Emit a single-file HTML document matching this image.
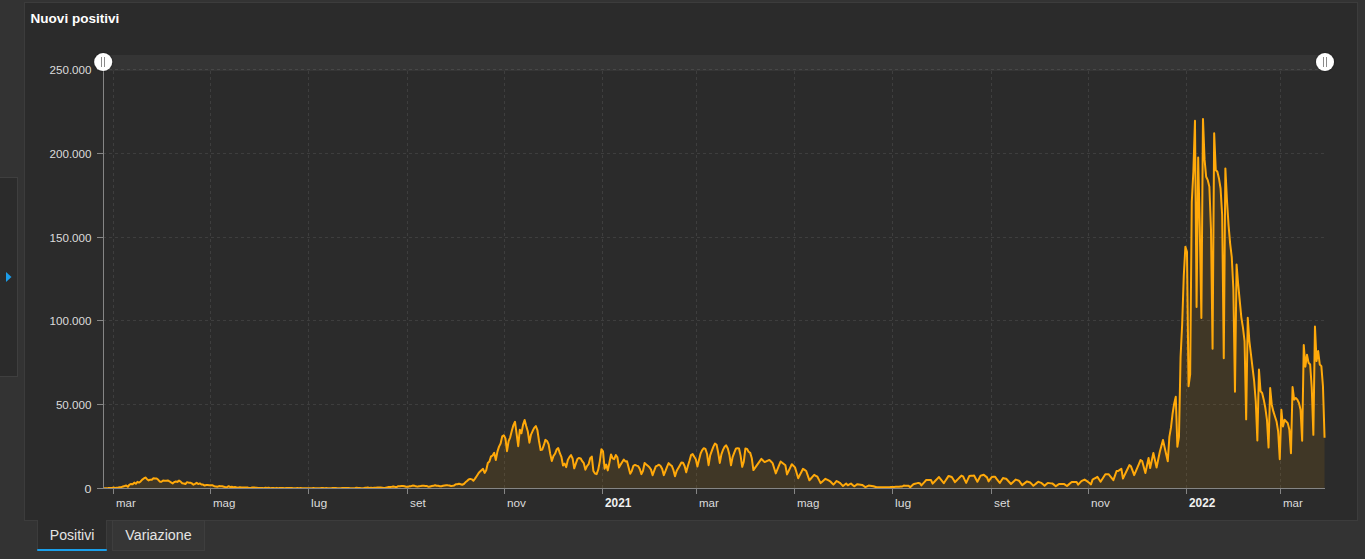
<!DOCTYPE html>
<html><head><meta charset="utf-8"><style>
html,body{margin:0;padding:0;}
body{width:1365px;height:559px;background:#333333;position:relative;overflow:hidden;font-family:"Liberation Sans",sans-serif;}
#side{position:absolute;left:-1px;top:177px;width:17px;height:198px;background:#2b2b2b;border:1px solid #3f3f3f;}
#panel{position:absolute;left:24px;top:2px;width:1332px;height:517px;background:#2b2b2b;border:1px solid #3c3c3c;}
#title{position:absolute;left:30px;top:10px;font-size:14px;font-weight:bold;color:#ffffff;line-height:16px;white-space:nowrap;}
svg{position:absolute;left:0;top:0;}
.yl{font-size:10px;fill:#dcdcdc;}
.xl{font-size:10px;fill:#dcdcdc;}
.ttl{font-size:13.5px;font-weight:bold;fill:#ffffff;}
.tb{font-size:14px;fill:#e4e4e4;}
.xb{font-size:12px;font-weight:bold;fill:#f0f0f0;}
.tab{position:absolute;top:520px;height:29px;font-size:14px;color:#e6e6e6;line-height:29px;text-align:center;white-space:nowrap;box-sizing:border-box;}
#t1{left:37px;top:520px;width:70px;background:#2b2b2b;border-left:1px solid #3c3c3c;border-right:1px solid #3c3c3c;height:31px;}
#t1 .ul{position:absolute;left:-1px;right:-1px;top:29px;height:2px;background:#1a9fea;border-radius:1px;}
#t2{left:112px;top:520px;width:93px;height:31px;background:#363636;border:1px solid #3e3e3e;}
</style></head><body>
<div id="side"></div>
<svg width="20" height="559" style="left:0;top:0"><polygon points="6,272 11.5,277 6,282" fill="#1b9ce8"/></svg>
<div id="panel"></div>
<svg width="1365" height="559" viewBox="0 0 1365 559">
<defs><clipPath id="pc"><rect x="103" y="60" width="1223" height="428.5"/></clipPath><filter id="sh" x="-50%" y="-50%" width="200%" height="200%"><feDropShadow dx="0" dy="0" stdDeviation="1" flood-color="#000" flood-opacity="0.6"/></filter></defs>
<rect x="103" y="55" width="1222" height="16" fill="#353535"/>
<line x1="103" y1="69.5" x2="1325" y2="69.5" stroke="#ffffff" stroke-opacity="0.09" stroke-width="1" stroke-dasharray="3,3"/>
<line x1="103" y1="153.5" x2="1325" y2="153.5" stroke="#ffffff" stroke-opacity="0.09" stroke-width="1" stroke-dasharray="3,3"/>
<line x1="103" y1="237.5" x2="1325" y2="237.5" stroke="#ffffff" stroke-opacity="0.09" stroke-width="1" stroke-dasharray="3,3"/>
<line x1="103" y1="320.5" x2="1325" y2="320.5" stroke="#ffffff" stroke-opacity="0.09" stroke-width="1" stroke-dasharray="3,3"/>
<line x1="103" y1="404.5" x2="1325" y2="404.5" stroke="#ffffff" stroke-opacity="0.09" stroke-width="1" stroke-dasharray="3,3"/>
<line x1="113.5" y1="71" x2="113.5" y2="488" stroke="#ffffff" stroke-opacity="0.09" stroke-width="1" stroke-dasharray="3,3"/>
<line x1="210.5" y1="71" x2="210.5" y2="488" stroke="#ffffff" stroke-opacity="0.09" stroke-width="1" stroke-dasharray="3,3"/>
<line x1="308.5" y1="71" x2="308.5" y2="488" stroke="#ffffff" stroke-opacity="0.09" stroke-width="1" stroke-dasharray="3,3"/>
<line x1="407.5" y1="71" x2="407.5" y2="488" stroke="#ffffff" stroke-opacity="0.09" stroke-width="1" stroke-dasharray="3,3"/>
<line x1="504.5" y1="71" x2="504.5" y2="488" stroke="#ffffff" stroke-opacity="0.09" stroke-width="1" stroke-dasharray="3,3"/>
<line x1="602.5" y1="71" x2="602.5" y2="488" stroke="#ffffff" stroke-opacity="0.09" stroke-width="1" stroke-dasharray="3,3"/>
<line x1="696.5" y1="71" x2="696.5" y2="488" stroke="#ffffff" stroke-opacity="0.09" stroke-width="1" stroke-dasharray="3,3"/>
<line x1="794.5" y1="71" x2="794.5" y2="488" stroke="#ffffff" stroke-opacity="0.09" stroke-width="1" stroke-dasharray="3,3"/>
<line x1="892.5" y1="71" x2="892.5" y2="488" stroke="#ffffff" stroke-opacity="0.09" stroke-width="1" stroke-dasharray="3,3"/>
<line x1="991.5" y1="71" x2="991.5" y2="488" stroke="#ffffff" stroke-opacity="0.09" stroke-width="1" stroke-dasharray="3,3"/>
<line x1="1088.5" y1="71" x2="1088.5" y2="488" stroke="#ffffff" stroke-opacity="0.09" stroke-width="1" stroke-dasharray="3,3"/>
<line x1="1186.5" y1="71" x2="1186.5" y2="488" stroke="#ffffff" stroke-opacity="0.09" stroke-width="1" stroke-dasharray="3,3"/>
<line x1="1280.5" y1="71" x2="1280.5" y2="488" stroke="#ffffff" stroke-opacity="0.09" stroke-width="1" stroke-dasharray="3,3"/>
<path d="M103.85,488.13 L105.45,488.34 L107.05,488.37 L108.65,488.08 L110.25,488.10 L111.85,488.10 L113.45,487.55 L115.05,487.93 L116.65,487.72 L118.25,487.52 L119.85,487.21 L121.45,487.20 L123.05,486.41 L124.65,486.00 L126.25,485.49 L127.85,486.86 L129.45,484.62 L131.05,484.06 L132.65,484.23 L134.25,482.64 L135.85,483.77 L137.45,481.80 L139.05,482.59 L140.65,481.45 L142.25,479.58 L143.85,478.47 L145.45,477.51 L147.05,479.18 L148.65,480.47 L150.25,479.70 L151.85,479.77 L153.45,478.19 L155.05,478.51 L156.65,478.49 L158.25,479.76 L159.85,481.71 L161.45,481.71 L163.05,480.49 L164.65,480.68 L166.25,480.82 L167.85,480.45 L169.45,481.27 L171.04,482.47 L172.64,483.41 L174.24,482.07 L175.84,481.45 L177.44,481.88 L179.04,480.63 L180.64,481.64 L182.24,483.22 L183.84,483.52 L185.44,484.03 L187.04,482.15 L188.64,482.65 L190.24,482.65 L191.84,483.39 L193.44,484.72 L195.04,483.93 L196.64,482.85 L198.24,484.07 L199.84,483.44 L201.44,484.55 L203.04,484.60 L204.64,485.59 L206.24,485.00 L207.84,485.00 L209.44,485.36 L211.04,485.21 L212.64,485.32 L214.24,486.17 L215.84,486.45 L217.44,486.70 L219.04,486.08 L220.64,486.15 L222.24,486.28 L223.84,486.68 L225.44,487.16 L227.04,487.25 L228.64,486.15 L230.24,487.01 L231.84,486.84 L233.44,487.18 L235.04,487.03 L236.64,487.37 L238.24,487.74 L239.84,487.14 L241.44,487.39 L243.04,487.42 L244.64,487.41 L246.24,487.38 L247.84,487.61 L249.44,488.00 L251.04,487.83 L252.64,487.52 L254.24,487.51 L255.84,487.64 L257.44,487.80 L259.04,487.91 L260.64,487.97 L262.24,487.96 L263.84,488.20 L265.44,487.63 L267.04,488.05 L268.64,487.63 L270.24,488.17 L271.84,488.03 L273.44,488.03 L275.04,488.16 L276.64,487.86 L278.24,488.23 L279.84,487.92 L281.44,487.93 L283.04,488.00 L284.64,488.15 L286.24,487.95 L287.84,487.94 L289.44,488.08 L291.04,488.06 L292.64,488.12 L294.24,488.13 L295.84,488.31 L297.44,488.00 L299.04,488.18 L300.64,488.07 L302.24,488.21 L303.83,488.21 L305.43,488.29 L307.03,488.26 L308.63,488.19 L310.23,488.16 L311.83,488.13 L313.43,488.11 L315.03,488.18 L316.63,488.15 L318.23,488.27 L319.83,488.18 L321.43,488.12 L323.03,488.04 L324.63,488.18 L326.23,488.11 L327.83,488.22 L329.43,488.31 L331.03,488.23 L332.63,488.11 L334.23,488.11 L335.83,488.08 L337.43,488.13 L339.03,488.13 L340.63,488.28 L342.23,488.03 L343.83,487.99 L345.43,488.08 L347.03,488.04 L348.63,488.07 L350.23,488.22 L351.83,488.20 L353.43,488.14 L355.03,488.02 L356.63,487.86 L358.23,488.01 L359.83,488.10 L361.43,488.23 L363.03,488.18 L364.63,487.86 L366.23,487.83 L367.83,487.57 L369.43,487.92 L371.03,487.72 L372.63,488.07 L374.23,487.81 L375.83,487.69 L377.43,487.62 L379.03,487.54 L380.63,487.45 L382.23,487.70 L383.83,487.96 L385.43,487.82 L387.03,487.42 L388.63,487.08 L390.23,486.91 L391.83,486.71 L393.43,486.47 L395.03,486.90 L396.63,487.03 L398.23,486.21 L399.83,486.14 L401.43,486.05 L403.03,486.08 L404.63,486.21 L406.23,486.83 L407.83,486.86 L409.43,486.28 L411.03,486.16 L412.63,485.60 L414.23,485.66 L415.83,486.33 L417.43,486.64 L419.03,486.20 L420.63,486.10 L422.23,485.82 L423.83,485.79 L425.43,485.98 L427.03,486.06 L428.63,486.81 L430.23,486.44 L431.83,486.07 L433.43,485.84 L435.03,485.30 L436.63,485.75 L438.22,485.84 L439.82,486.24 L441.42,486.17 L443.02,485.75 L444.62,485.51 L446.22,485.30 L447.82,485.37 L449.42,485.54 L451.02,486.00 L452.62,485.74 L454.22,485.40 L455.82,484.23 L457.42,484.31 L459.02,483.73 L460.62,484.18 L462.22,484.72 L463.82,484.01 L465.42,482.34 L467.02,481.03 L468.62,479.50 L470.22,478.91 L471.82,479.36 L473.42,480.76 L475.02,478.61 L476.62,476.21 L478.22,473.74 L479.82,471.72 L481.42,470.19 L483.02,468.88 L484.62,472.85 L486.22,470.28 L487.82,463.03 L489.42,461.55 L491.02,456.42 L492.62,455.58 L494.22,452.85 L495.82,459.99 L497.42,451.64 L499.02,446.62 L500.62,443.53 L502.22,436.40 L503.82,435.27 L505.42,438.38 L507.02,451.20 L508.62,441.16 L510.22,437.30 L511.82,430.67 L513.42,425.13 L515.02,421.78 L516.62,433.84 L518.22,446.15 L519.82,429.68 L521.42,433.26 L523.02,424.85 L524.62,419.95 L526.22,426.06 L527.82,431.55 L529.42,442.65 L531.02,434.55 L532.62,431.04 L534.22,427.87 L535.82,426.08 L537.42,430.23 L539.02,441.01 L540.62,450.07 L542.22,449.56 L543.82,445.17 L545.42,439.89 L547.02,440.98 L548.62,444.38 L550.22,453.89 L551.82,461.05 L553.42,456.07 L555.02,453.79 L556.62,449.57 L558.22,448.11 L559.82,453.22 L561.42,456.85 L563.02,465.51 L564.62,463.62 L566.22,467.12 L567.82,460.01 L569.42,457.11 L571.01,455.14 L572.61,458.44 L574.21,468.34 L575.81,463.62 L577.41,459.05 L579.01,457.94 L580.61,458.35 L582.21,461.17 L583.81,463.19 L585.41,469.71 L587.01,466.18 L588.61,464.16 L590.21,458.26 L591.81,456.59 L593.41,471.06 L595.01,473.56 L596.61,474.11 L598.21,469.69 L599.81,461.35 L601.41,449.15 L603.01,451.27 L604.61,468.67 L606.21,464.63 L607.81,470.40 L609.41,462.73 L611.01,454.43 L612.61,458.30 L614.21,459.11 L615.81,455.02 L617.41,457.28 L619.01,467.50 L620.61,464.63 L622.21,462.06 L623.81,459.60 L625.41,461.44 L627.01,461.16 L628.61,467.47 L630.21,473.71 L631.81,470.91 L633.41,465.76 L635.01,464.91 L636.61,465.65 L638.21,466.16 L639.81,469.01 L641.41,474.15 L643.01,470.75 L644.61,463.02 L646.21,464.41 L647.81,465.75 L649.41,467.19 L651.01,469.64 L652.61,475.22 L654.21,470.68 L655.81,466.40 L657.41,465.61 L659.01,464.67 L660.61,465.97 L662.21,468.99 L663.81,475.14 L665.41,471.06 L667.01,466.79 L668.61,463.12 L670.21,464.80 L671.81,465.82 L673.41,469.95 L675.01,476.18 L676.61,471.09 L678.21,468.26 L679.81,465.43 L681.41,462.56 L683.01,462.74 L684.61,465.95 L686.21,472.36 L687.81,466.19 L689.41,460.97 L691.01,455.17 L692.61,454.14 L694.21,456.80 L695.81,459.25 L697.41,466.52 L699.01,459.87 L700.61,453.50 L702.21,450.18 L703.81,448.22 L705.40,448.88 L707.00,453.70 L708.60,465.20 L710.20,455.40 L711.80,450.94 L713.40,446.60 L715.00,443.54 L716.60,444.82 L718.20,452.78 L719.80,462.91 L721.40,454.32 L723.00,449.85 L724.60,446.71 L726.20,445.37 L727.80,448.56 L729.40,454.71 L731.00,465.29 L732.60,457.05 L734.20,452.86 L735.80,448.79 L737.40,448.15 L739.00,448.55 L740.60,455.63 L742.20,466.85 L743.80,461.66 L745.40,448.44 L747.00,448.86 L748.60,451.74 L750.20,452.87 L751.80,458.29 L753.40,470.10 L755.00,467.86 L756.60,465.62 L758.20,463.38 L759.80,461.14 L761.40,458.90 L763.00,460.50 L764.60,462.10 L766.20,461.37 L767.80,460.63 L769.40,459.90 L771.00,461.50 L772.60,463.10 L774.20,468.25 L775.80,473.40 L777.40,469.43 L779.00,465.47 L780.60,461.50 L782.20,462.77 L783.80,464.03 L785.40,465.30 L787.00,474.40 L788.60,471.00 L790.20,467.60 L791.80,464.20 L793.40,465.80 L795.00,467.40 L796.60,472.80 L798.20,478.20 L799.80,475.07 L801.40,471.93 L803.00,468.80 L804.60,469.90 L806.20,471.00 L807.80,475.65 L809.40,480.30 L811.00,478.50 L812.60,476.70 L814.20,474.90 L815.80,475.80 L817.40,476.70 L819.00,479.90 L820.60,483.10 L822.20,481.67 L823.80,480.23 L825.40,478.80 L827.00,479.63 L828.60,480.47 L830.20,481.30 L831.80,482.95 L833.40,484.60 L835.00,482.80 L836.60,481.00 L838.19,481.90 L839.79,482.80 L841.39,484.40 L842.99,486.00 L844.59,484.75 L846.19,483.50 L847.79,485.30 L849.39,484.40 L850.99,483.50 L852.59,484.90 L854.19,486.30 L855.79,485.25 L857.39,484.20 L858.99,484.43 L860.59,484.67 L862.19,484.90 L863.79,486.00 L865.39,487.10 L866.99,486.35 L868.59,485.60 L870.19,485.80 L871.79,486.00 L873.39,486.20 L874.99,486.75 L876.59,487.30 L878.19,487.30 L879.79,487.30 L881.39,487.30 L882.99,487.30 L884.59,487.30 L886.19,487.30 L887.79,487.30 L889.39,487.21 L890.99,487.12 L892.59,487.03 L894.19,486.94 L895.79,486.86 L897.39,486.77 L898.99,486.68 L900.59,486.59 L902.19,486.50 L903.79,485.60 L905.39,485.67 L906.99,485.73 L908.59,485.80 L910.19,487.30 L911.79,485.80 L913.39,484.30 L914.99,483.83 L916.59,483.37 L918.19,482.90 L919.79,483.20 L921.39,485.40 L922.99,483.60 L924.59,481.80 L926.19,480.00 L927.79,480.00 L929.39,480.00 L930.99,480.00 L932.59,483.60 L934.19,481.95 L935.79,480.30 L937.39,478.65 L938.99,477.00 L940.59,479.07 L942.19,481.13 L943.79,483.20 L945.39,480.77 L946.99,478.33 L948.59,475.90 L950.19,476.45 L951.79,477.00 L953.39,479.55 L954.99,482.10 L956.59,480.48 L958.19,478.85 L959.79,477.23 L961.39,475.60 L962.99,476.30 L964.59,479.60 L966.19,482.90 L967.79,479.40 L969.39,475.90 L970.98,475.80 L972.58,475.70 L974.18,475.60 L975.78,478.70 L977.38,481.80 L978.98,478.70 L980.58,475.60 L982.18,475.20 L983.78,474.80 L985.38,476.10 L986.98,477.40 L988.58,481.40 L990.18,479.20 L991.78,477.00 L993.38,476.85 L994.98,476.70 L996.58,478.77 L998.18,480.83 L999.78,482.90 L1001.38,480.50 L1002.98,478.10 L1004.58,478.45 L1006.18,478.80 L1007.78,480.53 L1009.38,482.27 L1010.98,484.00 L1012.58,482.53 L1014.18,481.07 L1015.78,479.60 L1017.38,480.15 L1018.98,480.70 L1020.58,482.90 L1022.18,485.10 L1023.78,483.87 L1025.38,482.63 L1026.98,481.40 L1028.58,481.95 L1030.18,482.50 L1031.78,484.15 L1033.38,485.80 L1034.98,484.47 L1036.58,483.13 L1038.18,481.80 L1039.78,482.35 L1041.38,482.90 L1042.98,484.35 L1044.58,485.80 L1046.18,484.35 L1047.78,482.90 L1049.38,483.13 L1050.98,483.37 L1052.58,483.60 L1054.18,484.90 L1055.78,486.20 L1057.38,485.10 L1058.98,484.00 L1060.58,483.97 L1062.18,483.93 L1063.78,483.90 L1065.38,484.95 L1066.98,486.00 L1068.58,484.63 L1070.18,483.27 L1071.78,481.90 L1073.38,481.90 L1074.98,481.90 L1076.58,481.90 L1078.18,484.70 L1079.78,482.95 L1081.38,481.20 L1082.98,480.40 L1084.58,479.60 L1086.18,480.65 L1087.78,481.70 L1089.38,483.05 L1090.98,484.40 L1092.58,479.60 L1094.18,478.70 L1095.78,477.80 L1097.38,476.90 L1098.98,479.30 L1100.58,481.70 L1102.18,479.20 L1103.77,476.70 L1105.37,474.20 L1106.97,474.20 L1108.57,474.20 L1110.17,476.17 L1111.77,478.13 L1113.37,480.10 L1114.97,475.55 L1116.57,471.00 L1118.17,471.00 L1119.77,469.90 L1121.37,468.80 L1122.97,478.50 L1124.57,475.15 L1126.17,471.80 L1127.77,468.45 L1129.37,465.10 L1130.97,466.30 L1132.57,470.70 L1134.17,475.10 L1135.77,471.33 L1137.37,467.55 L1138.97,463.77 L1140.57,460.00 L1142.17,461.00 L1143.77,467.05 L1145.37,473.10 L1146.97,465.55 L1148.57,458.00 L1150.17,468.10 L1151.77,460.55 L1153.37,453.00 L1154.97,460.30 L1156.57,467.60 L1158.17,459.80 L1159.77,452.00 L1161.37,446.00 L1162.97,440.00 L1164.57,447.11 L1166.17,454.22 L1167.77,461.33 L1169.37,436.88 L1170.97,427.67 L1172.57,413.76 L1174.17,403.70 L1175.77,396.72 L1177.37,446.80 L1178.97,436.86 L1180.57,357.25 L1182.17,324.22 L1183.77,275.84 L1185.37,246.75 L1186.97,251.74 L1188.57,386.19 L1190.17,374.44 L1191.77,202.17 L1193.37,171.55 L1194.97,120.72 L1196.57,306.98 L1198.17,157.40 L1199.77,227.62 L1201.37,317.95 L1202.97,118.89 L1204.57,159.63 L1206.17,176.76 L1207.77,180.12 L1209.37,186.82 L1210.97,228.72 L1212.57,348.72 L1214.17,133.19 L1215.77,170.06 L1217.37,171.74 L1218.97,178.44 L1220.57,188.50 L1222.17,215.31 L1223.77,358.28 L1225.37,168.38 L1226.97,200.23 L1228.57,225.37 L1230.17,243.80 L1231.77,257.21 L1233.37,289.06 L1234.97,391.77 L1236.57,264.59 L1238.16,284.03 L1239.76,300.79 L1241.36,317.55 L1242.96,327.60 L1244.56,341.01 L1246.16,419.37 L1247.76,317.78 L1249.36,341.01 L1250.96,354.42 L1252.56,367.83 L1254.16,381.24 L1255.76,401.35 L1257.36,440.52 L1258.96,369.50 L1260.56,391.29 L1262.16,392.97 L1263.76,399.67 L1265.36,408.05 L1266.96,419.78 L1268.56,447.59 L1270.16,387.94 L1271.76,404.70 L1273.36,411.40 L1274.96,416.43 L1276.56,421.46 L1278.16,431.52 L1279.76,459.17 L1281.36,409.73 L1282.96,426.49 L1284.56,419.78 L1286.16,421.46 L1287.76,423.14 L1289.36,429.84 L1290.96,453.26 L1292.56,387.10 L1294.16,399.67 L1295.76,398.00 L1297.36,399.67 L1298.96,403.02 L1300.56,409.73 L1302.16,440.73 L1303.76,345.03 L1305.36,366.65 L1306.96,354.76 L1308.56,362.80 L1310.16,364.48 L1311.76,387.94 L1313.36,434.87 L1314.96,326.43 L1316.56,361.12 L1318.16,351.07 L1319.76,364.48 L1321.36,366.15 L1322.96,386.26 L1324.56,437.72 L1324.56,488.5 L103.85,488.5 Z" fill="#ffa500" fill-opacity="0.1" stroke="none"/>
<path d="M103.85,488.13 L105.45,488.34 L107.05,488.37 L108.65,488.08 L110.25,488.10 L111.85,488.10 L113.45,487.55 L115.05,487.93 L116.65,487.72 L118.25,487.52 L119.85,487.21 L121.45,487.20 L123.05,486.41 L124.65,486.00 L126.25,485.49 L127.85,486.86 L129.45,484.62 L131.05,484.06 L132.65,484.23 L134.25,482.64 L135.85,483.77 L137.45,481.80 L139.05,482.59 L140.65,481.45 L142.25,479.58 L143.85,478.47 L145.45,477.51 L147.05,479.18 L148.65,480.47 L150.25,479.70 L151.85,479.77 L153.45,478.19 L155.05,478.51 L156.65,478.49 L158.25,479.76 L159.85,481.71 L161.45,481.71 L163.05,480.49 L164.65,480.68 L166.25,480.82 L167.85,480.45 L169.45,481.27 L171.04,482.47 L172.64,483.41 L174.24,482.07 L175.84,481.45 L177.44,481.88 L179.04,480.63 L180.64,481.64 L182.24,483.22 L183.84,483.52 L185.44,484.03 L187.04,482.15 L188.64,482.65 L190.24,482.65 L191.84,483.39 L193.44,484.72 L195.04,483.93 L196.64,482.85 L198.24,484.07 L199.84,483.44 L201.44,484.55 L203.04,484.60 L204.64,485.59 L206.24,485.00 L207.84,485.00 L209.44,485.36 L211.04,485.21 L212.64,485.32 L214.24,486.17 L215.84,486.45 L217.44,486.70 L219.04,486.08 L220.64,486.15 L222.24,486.28 L223.84,486.68 L225.44,487.16 L227.04,487.25 L228.64,486.15 L230.24,487.01 L231.84,486.84 L233.44,487.18 L235.04,487.03 L236.64,487.37 L238.24,487.74 L239.84,487.14 L241.44,487.39 L243.04,487.42 L244.64,487.41 L246.24,487.38 L247.84,487.61 L249.44,488.00 L251.04,487.83 L252.64,487.52 L254.24,487.51 L255.84,487.64 L257.44,487.80 L259.04,487.91 L260.64,487.97 L262.24,487.96 L263.84,488.20 L265.44,487.63 L267.04,488.05 L268.64,487.63 L270.24,488.17 L271.84,488.03 L273.44,488.03 L275.04,488.16 L276.64,487.86 L278.24,488.23 L279.84,487.92 L281.44,487.93 L283.04,488.00 L284.64,488.15 L286.24,487.95 L287.84,487.94 L289.44,488.08 L291.04,488.06 L292.64,488.12 L294.24,488.13 L295.84,488.31 L297.44,488.00 L299.04,488.18 L300.64,488.07 L302.24,488.21 L303.83,488.21 L305.43,488.29 L307.03,488.26 L308.63,488.19 L310.23,488.16 L311.83,488.13 L313.43,488.11 L315.03,488.18 L316.63,488.15 L318.23,488.27 L319.83,488.18 L321.43,488.12 L323.03,488.04 L324.63,488.18 L326.23,488.11 L327.83,488.22 L329.43,488.31 L331.03,488.23 L332.63,488.11 L334.23,488.11 L335.83,488.08 L337.43,488.13 L339.03,488.13 L340.63,488.28 L342.23,488.03 L343.83,487.99 L345.43,488.08 L347.03,488.04 L348.63,488.07 L350.23,488.22 L351.83,488.20 L353.43,488.14 L355.03,488.02 L356.63,487.86 L358.23,488.01 L359.83,488.10 L361.43,488.23 L363.03,488.18 L364.63,487.86 L366.23,487.83 L367.83,487.57 L369.43,487.92 L371.03,487.72 L372.63,488.07 L374.23,487.81 L375.83,487.69 L377.43,487.62 L379.03,487.54 L380.63,487.45 L382.23,487.70 L383.83,487.96 L385.43,487.82 L387.03,487.42 L388.63,487.08 L390.23,486.91 L391.83,486.71 L393.43,486.47 L395.03,486.90 L396.63,487.03 L398.23,486.21 L399.83,486.14 L401.43,486.05 L403.03,486.08 L404.63,486.21 L406.23,486.83 L407.83,486.86 L409.43,486.28 L411.03,486.16 L412.63,485.60 L414.23,485.66 L415.83,486.33 L417.43,486.64 L419.03,486.20 L420.63,486.10 L422.23,485.82 L423.83,485.79 L425.43,485.98 L427.03,486.06 L428.63,486.81 L430.23,486.44 L431.83,486.07 L433.43,485.84 L435.03,485.30 L436.63,485.75 L438.22,485.84 L439.82,486.24 L441.42,486.17 L443.02,485.75 L444.62,485.51 L446.22,485.30 L447.82,485.37 L449.42,485.54 L451.02,486.00 L452.62,485.74 L454.22,485.40 L455.82,484.23 L457.42,484.31 L459.02,483.73 L460.62,484.18 L462.22,484.72 L463.82,484.01 L465.42,482.34 L467.02,481.03 L468.62,479.50 L470.22,478.91 L471.82,479.36 L473.42,480.76 L475.02,478.61 L476.62,476.21 L478.22,473.74 L479.82,471.72 L481.42,470.19 L483.02,468.88 L484.62,472.85 L486.22,470.28 L487.82,463.03 L489.42,461.55 L491.02,456.42 L492.62,455.58 L494.22,452.85 L495.82,459.99 L497.42,451.64 L499.02,446.62 L500.62,443.53 L502.22,436.40 L503.82,435.27 L505.42,438.38 L507.02,451.20 L508.62,441.16 L510.22,437.30 L511.82,430.67 L513.42,425.13 L515.02,421.78 L516.62,433.84 L518.22,446.15 L519.82,429.68 L521.42,433.26 L523.02,424.85 L524.62,419.95 L526.22,426.06 L527.82,431.55 L529.42,442.65 L531.02,434.55 L532.62,431.04 L534.22,427.87 L535.82,426.08 L537.42,430.23 L539.02,441.01 L540.62,450.07 L542.22,449.56 L543.82,445.17 L545.42,439.89 L547.02,440.98 L548.62,444.38 L550.22,453.89 L551.82,461.05 L553.42,456.07 L555.02,453.79 L556.62,449.57 L558.22,448.11 L559.82,453.22 L561.42,456.85 L563.02,465.51 L564.62,463.62 L566.22,467.12 L567.82,460.01 L569.42,457.11 L571.01,455.14 L572.61,458.44 L574.21,468.34 L575.81,463.62 L577.41,459.05 L579.01,457.94 L580.61,458.35 L582.21,461.17 L583.81,463.19 L585.41,469.71 L587.01,466.18 L588.61,464.16 L590.21,458.26 L591.81,456.59 L593.41,471.06 L595.01,473.56 L596.61,474.11 L598.21,469.69 L599.81,461.35 L601.41,449.15 L603.01,451.27 L604.61,468.67 L606.21,464.63 L607.81,470.40 L609.41,462.73 L611.01,454.43 L612.61,458.30 L614.21,459.11 L615.81,455.02 L617.41,457.28 L619.01,467.50 L620.61,464.63 L622.21,462.06 L623.81,459.60 L625.41,461.44 L627.01,461.16 L628.61,467.47 L630.21,473.71 L631.81,470.91 L633.41,465.76 L635.01,464.91 L636.61,465.65 L638.21,466.16 L639.81,469.01 L641.41,474.15 L643.01,470.75 L644.61,463.02 L646.21,464.41 L647.81,465.75 L649.41,467.19 L651.01,469.64 L652.61,475.22 L654.21,470.68 L655.81,466.40 L657.41,465.61 L659.01,464.67 L660.61,465.97 L662.21,468.99 L663.81,475.14 L665.41,471.06 L667.01,466.79 L668.61,463.12 L670.21,464.80 L671.81,465.82 L673.41,469.95 L675.01,476.18 L676.61,471.09 L678.21,468.26 L679.81,465.43 L681.41,462.56 L683.01,462.74 L684.61,465.95 L686.21,472.36 L687.81,466.19 L689.41,460.97 L691.01,455.17 L692.61,454.14 L694.21,456.80 L695.81,459.25 L697.41,466.52 L699.01,459.87 L700.61,453.50 L702.21,450.18 L703.81,448.22 L705.40,448.88 L707.00,453.70 L708.60,465.20 L710.20,455.40 L711.80,450.94 L713.40,446.60 L715.00,443.54 L716.60,444.82 L718.20,452.78 L719.80,462.91 L721.40,454.32 L723.00,449.85 L724.60,446.71 L726.20,445.37 L727.80,448.56 L729.40,454.71 L731.00,465.29 L732.60,457.05 L734.20,452.86 L735.80,448.79 L737.40,448.15 L739.00,448.55 L740.60,455.63 L742.20,466.85 L743.80,461.66 L745.40,448.44 L747.00,448.86 L748.60,451.74 L750.20,452.87 L751.80,458.29 L753.40,470.10 L755.00,467.86 L756.60,465.62 L758.20,463.38 L759.80,461.14 L761.40,458.90 L763.00,460.50 L764.60,462.10 L766.20,461.37 L767.80,460.63 L769.40,459.90 L771.00,461.50 L772.60,463.10 L774.20,468.25 L775.80,473.40 L777.40,469.43 L779.00,465.47 L780.60,461.50 L782.20,462.77 L783.80,464.03 L785.40,465.30 L787.00,474.40 L788.60,471.00 L790.20,467.60 L791.80,464.20 L793.40,465.80 L795.00,467.40 L796.60,472.80 L798.20,478.20 L799.80,475.07 L801.40,471.93 L803.00,468.80 L804.60,469.90 L806.20,471.00 L807.80,475.65 L809.40,480.30 L811.00,478.50 L812.60,476.70 L814.20,474.90 L815.80,475.80 L817.40,476.70 L819.00,479.90 L820.60,483.10 L822.20,481.67 L823.80,480.23 L825.40,478.80 L827.00,479.63 L828.60,480.47 L830.20,481.30 L831.80,482.95 L833.40,484.60 L835.00,482.80 L836.60,481.00 L838.19,481.90 L839.79,482.80 L841.39,484.40 L842.99,486.00 L844.59,484.75 L846.19,483.50 L847.79,485.30 L849.39,484.40 L850.99,483.50 L852.59,484.90 L854.19,486.30 L855.79,485.25 L857.39,484.20 L858.99,484.43 L860.59,484.67 L862.19,484.90 L863.79,486.00 L865.39,487.10 L866.99,486.35 L868.59,485.60 L870.19,485.80 L871.79,486.00 L873.39,486.20 L874.99,486.75 L876.59,487.30 L878.19,487.30 L879.79,487.30 L881.39,487.30 L882.99,487.30 L884.59,487.30 L886.19,487.30 L887.79,487.30 L889.39,487.21 L890.99,487.12 L892.59,487.03 L894.19,486.94 L895.79,486.86 L897.39,486.77 L898.99,486.68 L900.59,486.59 L902.19,486.50 L903.79,485.60 L905.39,485.67 L906.99,485.73 L908.59,485.80 L910.19,487.30 L911.79,485.80 L913.39,484.30 L914.99,483.83 L916.59,483.37 L918.19,482.90 L919.79,483.20 L921.39,485.40 L922.99,483.60 L924.59,481.80 L926.19,480.00 L927.79,480.00 L929.39,480.00 L930.99,480.00 L932.59,483.60 L934.19,481.95 L935.79,480.30 L937.39,478.65 L938.99,477.00 L940.59,479.07 L942.19,481.13 L943.79,483.20 L945.39,480.77 L946.99,478.33 L948.59,475.90 L950.19,476.45 L951.79,477.00 L953.39,479.55 L954.99,482.10 L956.59,480.48 L958.19,478.85 L959.79,477.23 L961.39,475.60 L962.99,476.30 L964.59,479.60 L966.19,482.90 L967.79,479.40 L969.39,475.90 L970.98,475.80 L972.58,475.70 L974.18,475.60 L975.78,478.70 L977.38,481.80 L978.98,478.70 L980.58,475.60 L982.18,475.20 L983.78,474.80 L985.38,476.10 L986.98,477.40 L988.58,481.40 L990.18,479.20 L991.78,477.00 L993.38,476.85 L994.98,476.70 L996.58,478.77 L998.18,480.83 L999.78,482.90 L1001.38,480.50 L1002.98,478.10 L1004.58,478.45 L1006.18,478.80 L1007.78,480.53 L1009.38,482.27 L1010.98,484.00 L1012.58,482.53 L1014.18,481.07 L1015.78,479.60 L1017.38,480.15 L1018.98,480.70 L1020.58,482.90 L1022.18,485.10 L1023.78,483.87 L1025.38,482.63 L1026.98,481.40 L1028.58,481.95 L1030.18,482.50 L1031.78,484.15 L1033.38,485.80 L1034.98,484.47 L1036.58,483.13 L1038.18,481.80 L1039.78,482.35 L1041.38,482.90 L1042.98,484.35 L1044.58,485.80 L1046.18,484.35 L1047.78,482.90 L1049.38,483.13 L1050.98,483.37 L1052.58,483.60 L1054.18,484.90 L1055.78,486.20 L1057.38,485.10 L1058.98,484.00 L1060.58,483.97 L1062.18,483.93 L1063.78,483.90 L1065.38,484.95 L1066.98,486.00 L1068.58,484.63 L1070.18,483.27 L1071.78,481.90 L1073.38,481.90 L1074.98,481.90 L1076.58,481.90 L1078.18,484.70 L1079.78,482.95 L1081.38,481.20 L1082.98,480.40 L1084.58,479.60 L1086.18,480.65 L1087.78,481.70 L1089.38,483.05 L1090.98,484.40 L1092.58,479.60 L1094.18,478.70 L1095.78,477.80 L1097.38,476.90 L1098.98,479.30 L1100.58,481.70 L1102.18,479.20 L1103.77,476.70 L1105.37,474.20 L1106.97,474.20 L1108.57,474.20 L1110.17,476.17 L1111.77,478.13 L1113.37,480.10 L1114.97,475.55 L1116.57,471.00 L1118.17,471.00 L1119.77,469.90 L1121.37,468.80 L1122.97,478.50 L1124.57,475.15 L1126.17,471.80 L1127.77,468.45 L1129.37,465.10 L1130.97,466.30 L1132.57,470.70 L1134.17,475.10 L1135.77,471.33 L1137.37,467.55 L1138.97,463.77 L1140.57,460.00 L1142.17,461.00 L1143.77,467.05 L1145.37,473.10 L1146.97,465.55 L1148.57,458.00 L1150.17,468.10 L1151.77,460.55 L1153.37,453.00 L1154.97,460.30 L1156.57,467.60 L1158.17,459.80 L1159.77,452.00 L1161.37,446.00 L1162.97,440.00 L1164.57,447.11 L1166.17,454.22 L1167.77,461.33 L1169.37,436.88 L1170.97,427.67 L1172.57,413.76 L1174.17,403.70 L1175.77,396.72 L1177.37,446.80 L1178.97,436.86 L1180.57,357.25 L1182.17,324.22 L1183.77,275.84 L1185.37,246.75 L1186.97,251.74 L1188.57,386.19 L1190.17,374.44 L1191.77,202.17 L1193.37,171.55 L1194.97,120.72 L1196.57,306.98 L1198.17,157.40 L1199.77,227.62 L1201.37,317.95 L1202.97,118.89 L1204.57,159.63 L1206.17,176.76 L1207.77,180.12 L1209.37,186.82 L1210.97,228.72 L1212.57,348.72 L1214.17,133.19 L1215.77,170.06 L1217.37,171.74 L1218.97,178.44 L1220.57,188.50 L1222.17,215.31 L1223.77,358.28 L1225.37,168.38 L1226.97,200.23 L1228.57,225.37 L1230.17,243.80 L1231.77,257.21 L1233.37,289.06 L1234.97,391.77 L1236.57,264.59 L1238.16,284.03 L1239.76,300.79 L1241.36,317.55 L1242.96,327.60 L1244.56,341.01 L1246.16,419.37 L1247.76,317.78 L1249.36,341.01 L1250.96,354.42 L1252.56,367.83 L1254.16,381.24 L1255.76,401.35 L1257.36,440.52 L1258.96,369.50 L1260.56,391.29 L1262.16,392.97 L1263.76,399.67 L1265.36,408.05 L1266.96,419.78 L1268.56,447.59 L1270.16,387.94 L1271.76,404.70 L1273.36,411.40 L1274.96,416.43 L1276.56,421.46 L1278.16,431.52 L1279.76,459.17 L1281.36,409.73 L1282.96,426.49 L1284.56,419.78 L1286.16,421.46 L1287.76,423.14 L1289.36,429.84 L1290.96,453.26 L1292.56,387.10 L1294.16,399.67 L1295.76,398.00 L1297.36,399.67 L1298.96,403.02 L1300.56,409.73 L1302.16,440.73 L1303.76,345.03 L1305.36,366.65 L1306.96,354.76 L1308.56,362.80 L1310.16,364.48 L1311.76,387.94 L1313.36,434.87 L1314.96,326.43 L1316.56,361.12 L1318.16,351.07 L1319.76,364.48 L1321.36,366.15 L1322.96,386.26 L1324.56,437.72" fill="none" stroke="#ffa90a" stroke-width="2" stroke-linejoin="round" clip-path="url(#pc)"/>
<line x1="103.5" y1="71" x2="103.5" y2="489" stroke="#858585" stroke-width="1"/>
<line x1="97" y1="488.5" x2="1325" y2="488.5" stroke="#858585" stroke-width="1"/>
<line x1="97" y1="69.5" x2="103" y2="69.5" stroke="#858585" stroke-width="1"/>
<line x1="97" y1="153.5" x2="103" y2="153.5" stroke="#858585" stroke-width="1"/>
<line x1="97" y1="237.5" x2="103" y2="237.5" stroke="#858585" stroke-width="1"/>
<line x1="97" y1="320.5" x2="103" y2="320.5" stroke="#858585" stroke-width="1"/>
<line x1="97" y1="404.5" x2="103" y2="404.5" stroke="#858585" stroke-width="1"/>
<line x1="97" y1="488.5" x2="103" y2="488.5" stroke="#858585" stroke-width="1"/>
<line x1="113.5" y1="489" x2="113.5" y2="494" stroke="#858585" stroke-width="1"/>
<line x1="210.5" y1="489" x2="210.5" y2="494" stroke="#858585" stroke-width="1"/>
<line x1="308.5" y1="489" x2="308.5" y2="494" stroke="#858585" stroke-width="1"/>
<line x1="407.5" y1="489" x2="407.5" y2="494" stroke="#858585" stroke-width="1"/>
<line x1="504.5" y1="489" x2="504.5" y2="494" stroke="#858585" stroke-width="1"/>
<line x1="602.5" y1="489" x2="602.5" y2="494" stroke="#858585" stroke-width="1"/>
<line x1="696.5" y1="489" x2="696.5" y2="494" stroke="#858585" stroke-width="1"/>
<line x1="794.5" y1="489" x2="794.5" y2="494" stroke="#858585" stroke-width="1"/>
<line x1="892.5" y1="489" x2="892.5" y2="494" stroke="#858585" stroke-width="1"/>
<line x1="991.5" y1="489" x2="991.5" y2="494" stroke="#858585" stroke-width="1"/>
<line x1="1088.5" y1="489" x2="1088.5" y2="494" stroke="#858585" stroke-width="1"/>
<line x1="1186.5" y1="489" x2="1186.5" y2="494" stroke="#858585" stroke-width="1"/>
<line x1="1280.5" y1="489" x2="1280.5" y2="494" stroke="#858585" stroke-width="1"/>
<text x="49.5" y="74" textLength="42.0" lengthAdjust="spacingAndGlyphs" class="yl">250.000</text>
<text x="49.5" y="158" textLength="42.0" lengthAdjust="spacingAndGlyphs" class="yl">200.000</text>
<text x="49.5" y="242" textLength="42.0" lengthAdjust="spacingAndGlyphs" class="yl">150.000</text>
<text x="49.5" y="325" textLength="42.0" lengthAdjust="spacingAndGlyphs" class="yl">100.000</text>
<text x="55.9" y="409" textLength="35.6" lengthAdjust="spacingAndGlyphs" class="yl">50.000</text>
<text x="84.6" y="493" textLength="6.9" lengthAdjust="spacingAndGlyphs" class="yl">0</text>
<text x="116" y="507" textLength="19.8" lengthAdjust="spacingAndGlyphs" class="xl">mar</text>
<text x="213" y="507" textLength="22.4" lengthAdjust="spacingAndGlyphs" class="xl">mag</text>
<text x="311" y="507" textLength="16.2" lengthAdjust="spacingAndGlyphs" class="xl">lug</text>
<text x="410" y="507" textLength="15.8" lengthAdjust="spacingAndGlyphs" class="xl">set</text>
<text x="507" y="507" textLength="18.9" lengthAdjust="spacingAndGlyphs" class="xl">nov</text>
<text x="605" y="507" textLength="26.3" lengthAdjust="spacingAndGlyphs" class="xb">2021</text>
<text x="699" y="507" textLength="19.8" lengthAdjust="spacingAndGlyphs" class="xl">mar</text>
<text x="797" y="507" textLength="22.4" lengthAdjust="spacingAndGlyphs" class="xl">mag</text>
<text x="895" y="507" textLength="16.2" lengthAdjust="spacingAndGlyphs" class="xl">lug</text>
<text x="994" y="507" textLength="15.8" lengthAdjust="spacingAndGlyphs" class="xl">set</text>
<text x="1091" y="507" textLength="18.9" lengthAdjust="spacingAndGlyphs" class="xl">nov</text>
<text x="1189" y="507" textLength="26.3" lengthAdjust="spacingAndGlyphs" class="xb">2022</text>
<text x="1283" y="507" textLength="19.8" lengthAdjust="spacingAndGlyphs" class="xl">mar</text>
<circle cx="103.2" cy="62" r="9" fill="#ffffff" filter="url(#sh)"/>
<line x1="101.5" y1="57" x2="101.5" y2="67" stroke="#8a8a8a" stroke-width="1"/>
<line x1="104.5" y1="57" x2="104.5" y2="67" stroke="#8a8a8a" stroke-width="1"/>
<circle cx="1325.0" cy="62" r="9" fill="#ffffff" filter="url(#sh)"/>
<line x1="1323.5" y1="57" x2="1323.5" y2="67" stroke="#8a8a8a" stroke-width="1"/>
<line x1="1326.5" y1="57" x2="1326.5" y2="67" stroke="#8a8a8a" stroke-width="1"/>
</svg>
<div class="tab" id="t1"><div class="ul"></div></div>
<div class="tab" id="t2"></div>
<svg width="1365" height="559"><text x="30.6" y="23" textLength="88.6" lengthAdjust="spacingAndGlyphs" class="ttl">Nuovi positivi</text><text x="49.8" y="540" textLength="44.6" lengthAdjust="spacingAndGlyphs" class="tb">Positivi</text><text x="125.3" y="540" textLength="66.4" lengthAdjust="spacingAndGlyphs" class="tb">Variazione</text></svg>
</body></html>
